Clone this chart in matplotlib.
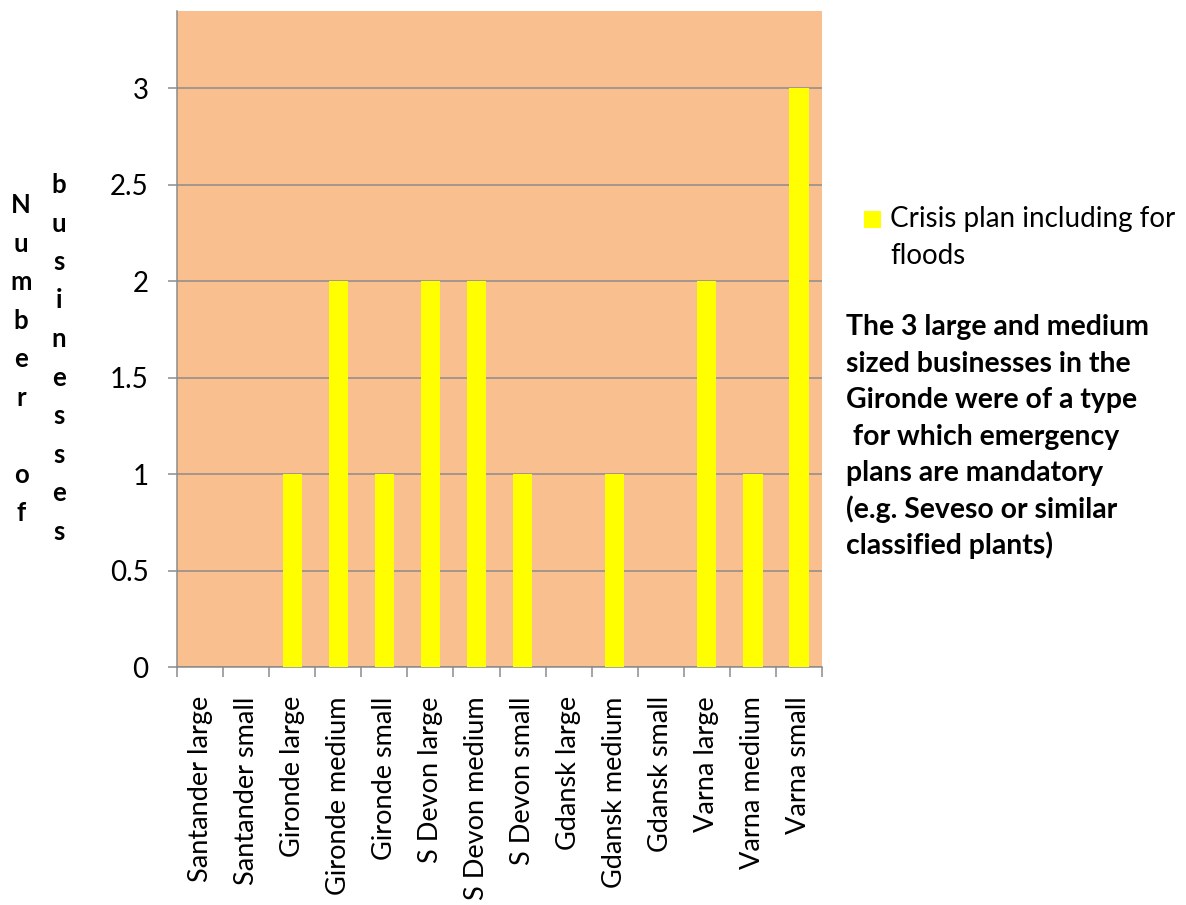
import matplotlib
matplotlib.use("Agg")
import matplotlib.pyplot as plt
from matplotlib.patches import Rectangle
import numpy as np

# ---- data ----
categories = [
    "Santander large", "Santander small", "Gironde large", "Gironde medium",
    "Gironde small", "S Devon large", "S Devon medium", "S Devon small",
    "Gdansk large", "Gdansk medium", "Gdansk small", "Varna large",
    "Varna medium", "Varna small",
]
crisis_plan = [0, 0, 1, 2, 1, 2, 2, 1, 0, 1, 0, 2, 1, 3]
series_label_lines = ["Crisis plan including for", "floods"]
y_ticks = [0, 0.5, 1, 1.5, 2, 2.5, 3]
y_tick_labels = ["0", "0.5", "1", "1.5", "2", "2.5", "3"]
y_label_words = ["Number of", "businesses"]
note_lines = [
    "The 3 large and medium",
    "sized businesses in the",
    "Gironde were of a type",
    " for which emergency",
    "plans are mandatory",
    "(e.g. Seveso or similar",
    "classified plants)",
]

# ---- style ----
W, H = 1186, 905
DPI = 100
FONT = "Lato"
plot_bg = "#F9BF8F"
bar_color = "#FFFF00"
axis_gray = "#8C8C8C"

plt.rcParams["font.family"] = FONT

fig = plt.figure(figsize=(W / DPI, H / DPI), dpi=DPI)
fig.patch.set_facecolor("white")


def fx(px):
    return px / W


def fy(py):
    return 1 - py / H


left, right, top, bottom = 177, 822, 11, 667
ax = fig.add_axes([fx(left), fy(bottom), fx(right - left), (bottom - top) / H])
ax.set_facecolor(plot_bg)

x = np.arange(len(categories))
bars = ax.bar(x, crisis_plan, width=0.42, color=bar_color, zorder=3)

ax.set_xlim(-0.5, len(categories) - 0.5)
ax.set_ylim(0, 3.4)

# horizontal gridlines
ax.set_yticks(y_ticks)
ax.set_yticklabels(y_tick_labels, fontsize=20)
ax.yaxis.grid(True, color=axis_gray, linewidth=1.1, zorder=1)
ax.set_axisbelow(True)

# category labels at centres, tick marks on boundaries
ax.set_xticks(x)
ax.set_xticklabels(categories, rotation=90, fontsize=19.5, va="top", ha="center")
ax.set_xticks(np.arange(-0.5, len(categories)), minor=True)
ax.tick_params(axis="x", which="major", length=0, pad=21)
ax.tick_params(axis="x", which="minor", length=7, color=axis_gray, width=1.1)
ax.tick_params(axis="y", which="major", length=6.5, color=axis_gray, width=1.1, pad=14)

for side in ("top", "right"):
    ax.spines[side].set_visible(False)
for side in ("left", "bottom"):
    ax.spines[side].set_color(axis_gray)
    ax.spines[side].set_linewidth(1.1)

# stacked-letter axis title
col_x = [21, 59]
col_base = [213, 193]
step = 38.5
for word, cx, cb in zip(y_label_words, col_x, col_base):
    for i, ch in enumerate(word):
        if ch == " ":
            continue
        fig.text(fx(cx), fy(cb + i * step), ch, ha="center", va="baseline",
                 fontsize=18.5, fontweight="bold")

# legend entry
swatch = Rectangle((fx(864), fy(228)), fx(17), 17 / H, transform=fig.transFigure,
                   facecolor=bars.patches[0].get_facecolor(), edgecolor="none")
fig.patches.append(swatch)
for i, line in enumerate(series_label_lines):
    fig.text(fx(890), fy(227 + i * 37), line, ha="left", va="baseline", fontsize=20)

# note
for i, line in enumerate(note_lines):
    fig.text(fx(846), fy(335 + i * 36.5), line, ha="left", va="baseline",
             fontsize=20.4, fontweight="bold")

fig.savefig("out.png", dpi=DPI, facecolor="white")
